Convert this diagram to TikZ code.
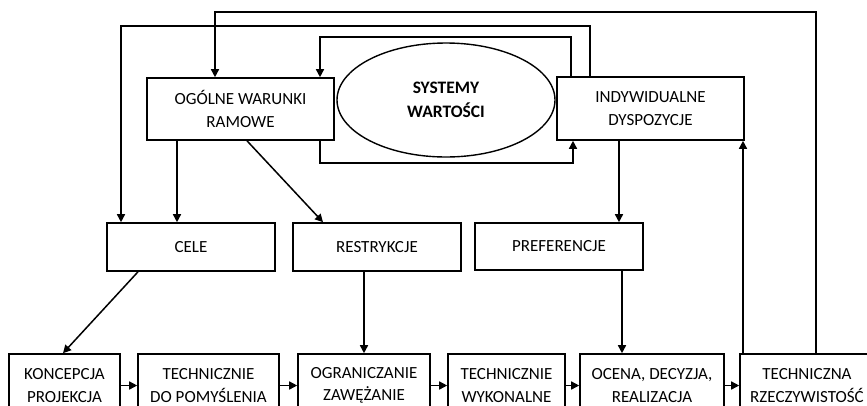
\documentclass[tikz,border=0pt]{standalone}
\usepackage{fontspec}
\setmainfont{Carlito}
\usetikzlibrary{arrows.meta,shapes.geometric,calc}
\begin{document}
\begin{tikzpicture}[x=1pt,y=-1pt,
  box/.style={draw,line width=1.6pt,inner sep=0pt,align=center,font=\fontsize{17}{22.5}\selectfont},
  arr/.style={line width=1.5pt,-{Triangle[length=8pt,width=8pt]}},
  ln/.style={line width=1.5pt}]
\useasboundingbox (0,0) rectangle (867,405);
\clip (0,0) rectangle (867,405);
% upper row
\node[box,minimum width=187pt,minimum height=62pt] (ogolne) at (240.5,109) {OGÓLNE WARUNKI\\RAMOWE};
\node[draw,ellipse,line width=1.4pt,minimum width=218pt,minimum height=114pt,inner sep=0pt,align=center,font=\fontsize{17.5}{24}\selectfont\bfseries] (sys) at (446,100) {SYSTEMY\\WARTOŚCI};
\node[box,minimum width=187pt,minimum height=63pt] (indyw) at (650.5,108.5) {INDYWIDUALNE\\DYSPOZYCJE};
% middle row
\node[box,minimum width=168pt,minimum height=48pt] (cele) at (191,247) {CELE};
\node[box,minimum width=168pt,minimum height=48pt] (restr) at (377,247) {RESTRYKCJE};
\node[box,minimum width=168pt,minimum height=47pt] (pref) at (559,246.5) {PREFERENCJE};
% bottom row
\node[box,minimum width=111pt,minimum height=63pt] (konc) at (64.5,385.5) {KONCEPCJA\\PROJEKCJA};
\node[box,minimum width=141pt,minimum height=63pt] (tdp) at (208.5,385.5) {TECHNICZNIE\\DO POMYŚLENIA};
\node[box,minimum width=132pt,minimum height=63pt] (ogr) at (364,385.5) {OGRANICZANIE\\ZAWĘŻANIE};
\node[box,minimum width=117pt,minimum height=63pt] (tw) at (506.5,385.5) {TECHNICZNIE\\WYKONALNE};
\node[box,minimum width=144pt,minimum height=63pt] (ocena) at (652,385.5) {OCENA, DECYZJA,\\REALIZACJA};
\node[box,minimum width=134pt,minimum height=63pt] (tr) at (807,385.5) {TECHNICZNA\\RZECZYWISTOŚĆ};
% routing coordinates
\coordinate (a1) at (816,12);  \coordinate (a2) at (215,12);
\coordinate (b1) at (590,26);  \coordinate (b2) at (121,26);
\coordinate (c1) at (571,37);  \coordinate (c2) at (320,37);
\coordinate (d1) at (320,163); \coordinate (d2) at (573,163);
\coordinate (e1) at (177,0);   \coordinate (f1) at (247,0); \coordinate (f2) at (323,0);
\coordinate (g1) at (619,0);   \coordinate (h1) at (743,0);
\coordinate (i1) at (138,0);   \coordinate (i2) at (63,0);
\coordinate (j1) at (364,0);   \coordinate (k1) at (622,0);
% loops
\draw[arr] (tr.north -| a1) -- (a1) -- (a2) -- (ogolne.north -| a2);
\draw[arr] (indyw.north -| b1) -- (b1) -- (b2) -- (cele.north -| b2);
\draw[arr] (indyw.north -| c1) -- (c1) -- (c2) -- (ogolne.north -| c2);
\draw[arr] (ogolne.south -| d1) -- (d1) -- (d2) -- (indyw.south -| d2);
% vertical / diagonal
\draw[arr] (ogolne.south -| e1) -- (cele.north -| e1);
\draw[arr] (ogolne.south -| f1) -- (restr.north -| f2);
\draw[arr] (indyw.south -| g1) -- (pref.north -| g1);
\draw[arr] (tr.north -| h1) -- (indyw.south -| h1);
\draw[arr] (cele.south -| i1) -- (konc.north -| i2);
\draw[arr] (restr.south -| j1) -- (ogr.north -| j1);
\draw[arr] (pref.south -| k1) -- (ocena.north -| k1);
% bottom chain
\draw[arr] (konc.east) -- (tdp.west);
\draw[arr] (tdp.east) -- (ogr.west);
\draw[arr] (ogr.east) -- (tw.west);
\draw[arr] (tw.east) -- (ocena.west);
\draw[arr] (ocena.east) -- (tr.west);
\end{tikzpicture}
\end{document}
